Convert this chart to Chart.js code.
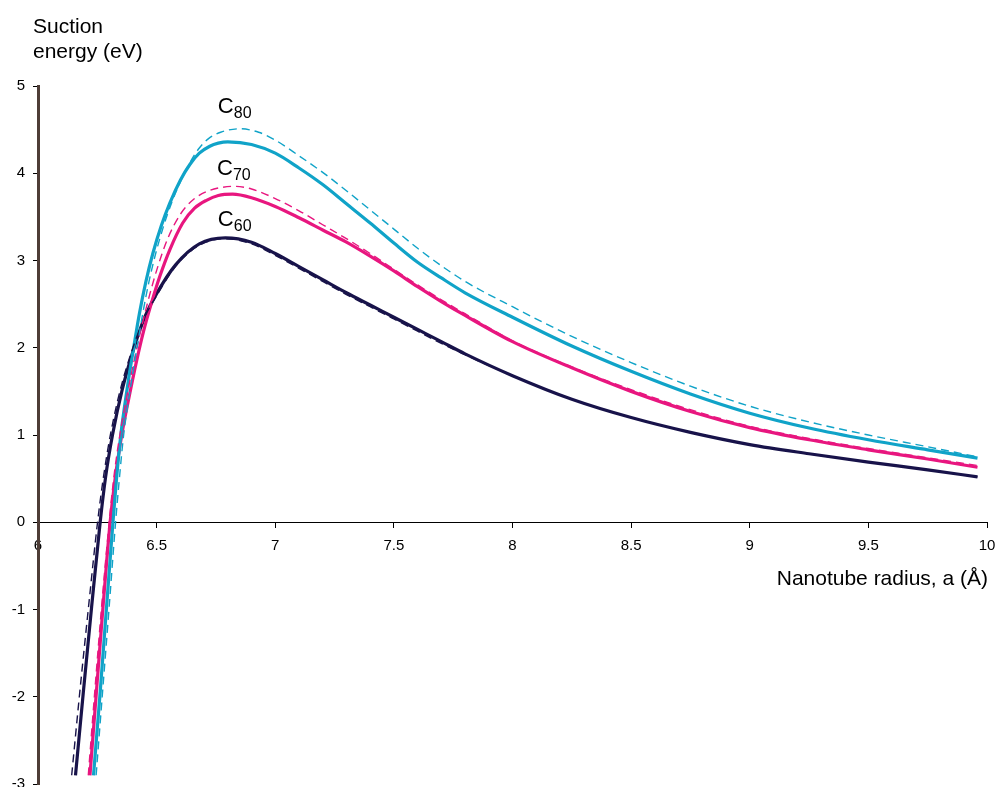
<!DOCTYPE html>
<html>
<head>
<meta charset="utf-8">
<title>Suction energy vs nanotube radius</title>
<script src="https://cdn.jsdelivr.net/npm/chart.js@4.4.0/dist/chart.umd.min.js"></script>
<style>
  html, body { margin: 0; padding: 0; background: #fff; }
  canvas { display: block; }
</style>
</head>
<body>
<canvas id="chart" width="999" height="787"></canvas>
<script>
// Data (x = nanotube radius in Å, y = suction energy in eV)
const c60SolidX = [6.158, 6.191, 6.226, 6.262, 6.285, 6.314, 6.355, 6.405, 6.45, 6.50, 6.58, 6.68, 6.79, 6.9, 7.0, 7.1, 7.2, 7.3, 7.4, 7.5, 7.6, 7.7, 7.8, 8.0, 8.25, 8.5, 8.75, 9.0, 9.25, 9.5, 9.75, 9.96];
const c60SolidY = [-2.9, -1.95, -0.97, 0, 0.52, 1.0, 1.52, 2.0, 2.35, 2.62, 2.95, 3.19, 3.26, 3.21, 3.08, 2.93, 2.78, 2.63, 2.49, 2.35, 2.21, 2.07, 1.93, 1.68, 1.41, 1.20, 1.03, 0.89, 0.785, 0.69, 0.60, 0.52];

const c60DashX = [6.142, 6.176, 6.213, 6.251, 6.276, 6.305, 6.347, 6.40, 6.45, 6.505, 6.585, 6.68, 6.79, 6.9, 7.0, 7.1, 7.2, 7.3, 7.4, 7.5, 7.6, 7.7, 7.8, 8.0, 8.25, 8.5, 8.75, 9.0, 9.25, 9.5, 9.75, 9.96];
const c60DashY = [-2.9, -1.95, -0.97, 0, 0.52, 1.0, 1.52, 2.0, 2.35, 2.62, 2.95, 3.175, 3.25, 3.19, 3.06, 2.91, 2.76, 2.61, 2.47, 2.33, 2.19, 2.05, 1.92, 1.68, 1.41, 1.20, 1.03, 0.89, 0.785, 0.69, 0.60, 0.52];

const c70SolidX = [6.219, 6.246, 6.274, 6.304, 6.325, 6.353, 6.385, 6.414, 6.444, 6.479, 6.515, 6.555, 6.61, 6.66, 6.71, 6.76, 6.82, 6.9, 7.0, 7.1, 7.2, 7.3, 7.4, 7.5, 7.6, 7.7, 7.8, 8.0, 8.25, 8.5, 8.75, 9.0, 9.25, 9.5, 9.75, 9.96];
const c70SolidY = [-2.9, -1.95, -0.97, 0, 0.5, 1.0, 1.45, 1.83, 2.18, 2.52, 2.83, 3.12, 3.43, 3.60, 3.69, 3.745, 3.76, 3.72, 3.62, 3.49, 3.35, 3.21, 3.05, 2.88, 2.70, 2.53, 2.37, 2.07, 1.77, 1.50, 1.27, 1.085, 0.945, 0.83, 0.725, 0.63];

const c70DashX = [6.212, 6.239, 6.268, 6.300, 6.319, 6.345, 6.375, 6.405, 6.435, 6.47, 6.505, 6.545, 6.60, 6.66, 6.72, 6.78, 6.83, 6.9, 7.0, 7.1, 7.2, 7.3, 7.4, 7.5, 7.6, 7.7, 7.8, 8.0, 8.25, 8.5, 8.75, 9.0, 9.25, 9.5, 9.75, 9.96];
const c70DashY = [-2.9, -1.95, -0.97, 0, 0.5, 1.0, 1.45, 1.85, 2.22, 2.6, 2.93, 3.24, 3.53, 3.71, 3.80, 3.84, 3.85, 3.82, 3.71, 3.57, 3.41, 3.25, 3.08, 2.90, 2.72, 2.55, 2.39, 2.08, 1.78, 1.52, 1.29, 1.10, 0.96, 0.845, 0.74, 0.65];

const c80SolidX = [6.234, 6.262, 6.289, 6.316, 6.331, 6.349, 6.366, 6.385, 6.405, 6.428, 6.455, 6.484, 6.52, 6.556, 6.60, 6.64, 6.68, 6.724, 6.76, 6.80, 6.9, 7.0, 7.1, 7.2, 7.3, 7.4, 7.5, 7.6, 7.7, 7.8, 8.0, 8.25, 8.5, 8.75, 9.0, 9.25, 9.5, 9.75, 9.96];
const c80SolidY = [-2.9, -1.95, -0.97, 0, 0.5, 1.0, 1.35, 1.70, 2.03, 2.40, 2.76, 3.08, 3.40, 3.66, 3.92, 4.10, 4.23, 4.31, 4.345, 4.36, 4.33, 4.23, 4.06, 3.87, 3.65, 3.43, 3.20, 2.98, 2.80, 2.63, 2.35, 2.02, 1.73, 1.47, 1.25, 1.08, 0.945, 0.83, 0.735];

const c80DashX = [6.245, 6.272, 6.30, 6.327, 6.343, 6.361, 6.379, 6.399, 6.419, 6.442, 6.468, 6.496, 6.53, 6.563, 6.603, 6.64, 6.68, 6.72, 6.77, 6.85, 6.93, 7.0, 7.1, 7.2, 7.3, 7.4, 7.5, 7.6, 7.7, 7.8, 8.0, 8.25, 8.5, 8.75, 9.0, 9.25, 9.5, 9.75, 9.96];
const c80DashY = [-2.9, -1.95, -0.97, 0, 0.5, 1.0, 1.35, 1.70, 2.03, 2.40, 2.76, 3.08, 3.40, 3.66, 3.92, 4.12, 4.29, 4.40, 4.47, 4.51, 4.47, 4.38, 4.20, 4.01, 3.80, 3.58, 3.36, 3.14, 2.94, 2.76, 2.47, 2.13, 1.83, 1.56, 1.33, 1.15, 1.00, 0.865, 0.75];

const curveNames = ["80", "70", "60"];
const xTickStep = 0.5;
const yTickStep = 1;

const navy = "#18134a";
const pink = "#e8167f";
const cyan = "#10a3c8";

// label anchors in data units
const curveLabelPos = [
    { x: 6.758, y: 4.69 },
    { x: 6.754, y: 3.98 },
    { x: 6.758, y: 3.39 },
];

function toPoints(xs, ys) {
    return xs.map((x, i) => ({ x: x, y: ys[i] }));
}

function solid(data, color) {
    return {
        data: data,
        borderColor: color,
        borderWidth: 3.2,
        pointRadius: 0,
        fill: false,
        cubicInterpolationMode: "monotone",
        order: 2,
    };
}

function dashed(data, color) {
    return {
        data: data,
        borderColor: color,
        borderWidth: 1.4,
        borderDash: [8, 5],
        pointRadius: 0,
        fill: false,
        cubicInterpolationMode: "monotone",
        order: 1,
    };
}

const fontFamily = '"Liberation Sans", Arial, Helvetica, sans-serif';
Chart.defaults.font.family = fontFamily;
Chart.defaults.color = "#000";

// axis titles and curve labels
const textPlugin = {
    id: "texts",
    afterDraw(chart) {
        const ctx = chart.ctx;
        const xs = chart.scales.x;
        const ys = chart.scales.y;
        ctx.save();
        ctx.fillStyle = "#000";
        ctx.textBaseline = "alphabetic";

        ctx.font = "21px " + fontFamily;
        ctx.textAlign = "left";
        ctx.fillText("Suction", 33, 33);
        ctx.fillText("energy (eV)", 33, 58);

        ctx.textAlign = "right";
        ctx.fillText("Nanotube radius, a (Å)", xs.right + 1, ys.getPixelForValue(0) + 63);

        ctx.textAlign = "left";
        curveNames.forEach((name, i) => {
            const px = xs.getPixelForValue(curveLabelPos[i].x);
            const py = ys.getPixelForValue(curveLabelPos[i].y);
            ctx.font = "22px " + fontFamily;
            ctx.fillText("C", px, py);
            ctx.font = "16px " + fontFamily;
            ctx.fillText(name, px + 16, py + 5);
        });
        ctx.restore();
    },
};

const ctx = document.getElementById("chart").getContext("2d");
new Chart(ctx, {
    type: "line",
    data: {
        datasets: [
            dashed(toPoints(c80DashX, c80DashY), cyan),
            dashed(toPoints(c70DashX, c70DashY), pink),
            dashed(toPoints(c60DashX, c60DashY), navy),
            solid(toPoints(c80SolidX, c80SolidY), cyan),
            solid(toPoints(c70SolidX, c70SolidY), pink),
            solid(toPoints(c60SolidX, c60SolidY), navy),
        ],
    },
    options: {
        responsive: false,
        animation: false,
        layout: {
            padding: { left: 0, right: 12, top: 86, bottom: 3 },
        },
        plugins: {
            legend: { display: false },
            tooltip: { enabled: false },
        },
        scales: {
            x: {
                type: "linear",
                position: { y: 0 },
                min: 6,
                max: 10,
                ticks: {
                    stepSize: xTickStep,
                    maxRotation: 0,
                    autoSkip: false,
                    padding: 10,
                    font: { size: 15 },
                    color: "#000",
                    callback: (v) => String(Math.round(v * 10) / 10),
                },
                grid: {
                    drawOnChartArea: false,
                    drawTicks: true,
                    tickLength: 5,
                    color: "#000",
                },
                border: { display: true, color: "#000", width: 1 },
                afterFit(scale) {
                    scale.height = 0;
                    scale.paddingLeft = 0;
                    scale.paddingRight = 0;
                },
            },
            y: {
                type: "linear",
                position: "left",
                min: -3,
                max: 5,
                ticks: {
                    stepSize: yTickStep,
                    padding: 8,
                    font: { size: 15 },
                    color: "#000",
                },
                grid: {
                    drawOnChartArea: false,
                    drawTicks: true,
                    tickLength: 5,
                    color: "#000",
                },
                border: { display: true, color: "#4e3d37", width: 3 },
                afterFit(scale) {
                    scale.width = 38;
                    scale.paddingTop = 0;
                    scale.paddingBottom = 0;
                },
            },
        },
    },
    plugins: [textPlugin],
});
</script>
</body>
</html>
